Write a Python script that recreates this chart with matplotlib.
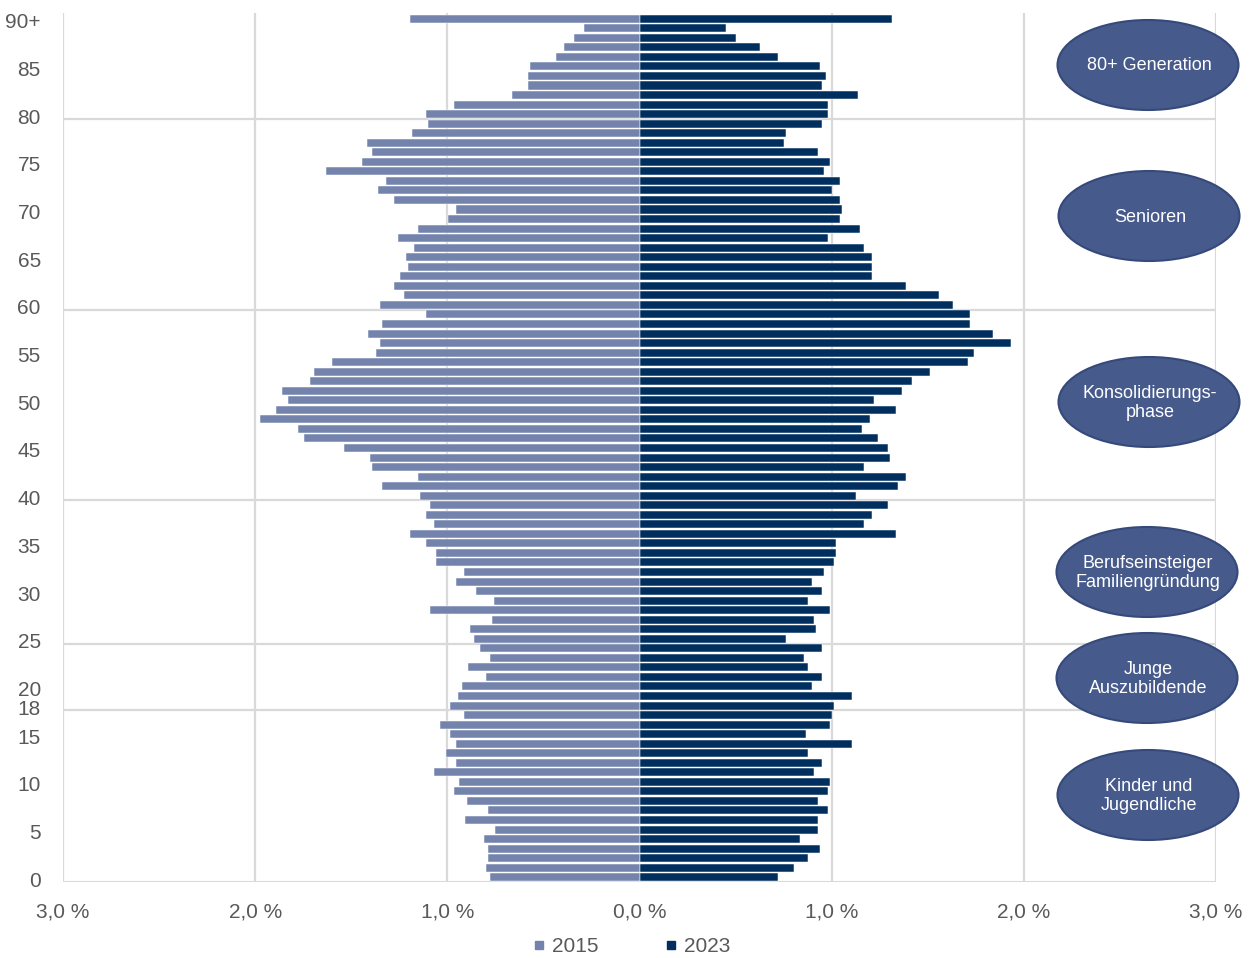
import matplotlib
matplotlib.use("Agg")
import matplotlib.pyplot as plt
from matplotlib.patches import Ellipse
from matplotlib.lines import Line2D
from matplotlib.transforms import ScaledTranslation

plt.rcParams['font.family'] = ['Liberation Sans', 'DejaVu Sans']

ages = list(range(0, 91))  # 90 = 90+

# share of population in %, index = age 0..90+
v2015 = [0.78, 0.80, 0.79, 0.79, 0.81, 0.75, 0.91, 0.79, 0.90, 0.965,
         0.94, 1.07, 0.955, 1.005, 0.955, 0.986, 1.038, 0.913, 0.986, 0.944,
         0.924, 0.80, 0.892, 0.778, 0.83, 0.861, 0.882, 0.767, 1.09, 0.757,
         0.851, 0.955, 0.913, 1.059, 1.059, 1.11, 1.194, 1.07, 1.11, 1.09,
         1.142, 1.34, 1.153, 1.392, 1.403, 1.538, 1.747, 1.778, 1.976, 1.892,
         1.83, 1.861, 1.715, 1.694, 1.60, 1.371, 1.35, 1.413, 1.34, 1.11,
         1.35, 1.226, 1.278, 1.247, 1.205, 1.215, 1.175, 1.257, 1.151, 0.998,
         0.957, 1.278, 1.361, 1.32, 1.632, 1.443, 1.39, 1.42, 1.183, 1.10,
         1.11, 0.966, 0.663, 0.58, 0.58, 0.569, 0.434, 0.394, 0.342, 0.288,
         1.195]

v2023 = [0.722, 0.806, 0.879, 0.941, 0.837, 0.93, 0.93, 0.983, 0.93, 0.983,
         0.993, 0.91, 0.951, 0.879, 1.108, 0.868, 0.993, 1.003, 1.014, 1.108,
         0.899, 0.951, 0.879, 0.858, 0.951, 0.764, 0.92, 0.91, 0.993, 0.879,
         0.951, 0.899, 0.962, 1.014, 1.024, 1.024, 1.337, 1.17, 1.212, 1.295,
         1.128, 1.347, 1.389, 1.17, 1.306, 1.295, 1.243, 1.16, 1.20, 1.337,
         1.222, 1.368, 1.42, 1.514, 1.712, 1.743, 1.931, 1.837, 1.722, 1.722,
         1.629, 1.556, 1.389, 1.212, 1.212, 1.212, 1.17, 0.983, 1.149, 1.045,
         1.056, 1.045, 1.003, 1.045, 0.962, 0.993, 0.93, 0.753, 0.764, 0.951,
         0.983, 0.983, 1.139, 0.951, 0.972, 0.94, 0.722, 0.628, 0.503, 0.451,
         1.316]

ytick_vals = [0, 5, 10, 15, 18, 20, 25, 30, 35, 40, 45, 50, 55, 60, 65, 70, 75, 80, 85, 90]
ytick_labels = ['0', '5', '10', '15', '18', '20', '25', '30', '35', '40', '45',
                '50', '55', '60', '65', '70', '75', '80', '85', '90+']
xtick_vals = [-3, -2, -1, 0, 1, 2, 3]
xtick_labels = ['3,0 %', '2,0 %', '1,0 %', '0,0 %', '1,0 %', '2,0 %', '3,0 %']
hlines_at = [79.5, 59.5, 39.5, 24.5, 17.5]

groups = ['80+ Generation', 'Senioren', 'Konsolidierungs-\nphase',
          'Berufseinsteiger\nFamiliengründung', 'Junge\nAuszubildende',
          'Kinder und\nJugendliche']

c2015 = '#7383AC'
c2023 = '#002F5F'
grid_c = '#D9D9D9'
txt_c = '#595959'

fig = plt.figure(figsize=(12.56, 9.58), dpi=100)
ax = fig.add_axes([63/1256, 1-882/958, (1216-63)/1256, (882-13)/958])

ax.barh(ages, [-v for v in v2015], height=0.84, color=c2015,
        edgecolor='white', linewidth=0.35, zorder=3, label='2015')
ax.barh(ages, v2023, height=0.84, color=c2023,
        edgecolor='white', linewidth=0.35, zorder=3, label='2023')

ax.set_xlim(-3, 3)
ax.set_ylim(-0.5, 90.6)
for s in ax.spines.values():
    s.set_visible(False)
for xv in xtick_vals:
    if xv != 0:
        ax.axvline(xv, color=grid_c, lw=1.6, zorder=1)
for hv in hlines_at:
    ax.axhline(hv, color=grid_c, lw=1.6, zorder=1)
ax.axhline(-0.5, color=grid_c, lw=2.2, zorder=1)

ax.set_xticks(xtick_vals)
ax.set_xticklabels(xtick_labels, fontsize=15, color=txt_c)
ax.set_yticks(ytick_vals)
ax.set_yticklabels(ytick_labels, fontsize=15, color=txt_c)
ax.tick_params(axis='both', length=0)
ax.tick_params(axis='y', pad=16)
ax.tick_params(axis='x', pad=15)
shift = ScaledTranslation(0, -2/100, fig.dpi_scale_trans)
for lbl in ax.get_yticklabels():
    lbl.set_transform(lbl.get_transform() + shift)

# group ellipses (figure pixel positions)
ell_pos = [(1148, 65), (1149, 216), (1149, 402), (1147, 572), (1147, 678), (1148, 795)]
for (px, py), name in zip(ell_pos, groups):
    fx, fy = px/1256, 1-py/958
    e = Ellipse((fx, fy), 181/1256, 90/958, transform=fig.transFigure,
                facecolor='#465A8B', edgecolor='#35497A', lw=1.5, zorder=5)
    fig.add_artist(e)
    fig.text(fx + 1/1256, fy - 1/958, name, ha='center', va='center', color='white',
             fontsize=13, linespacing=1.22, zorder=6)

handles = [Line2D([], [], marker='s', linestyle='none', color=c2015, markersize=6),
           Line2D([], [], marker='s', linestyle='none', color=c2023, markersize=6)]
fig.legend(handles, ['2015', '2023'], loc='center', bbox_to_anchor=(0.503, 1-947/958),
           ncol=2, frameon=False, fontsize=15, handlelength=0.6, handletextpad=0.3,
           columnspacing=3.2, labelcolor=txt_c)

fig.savefig('out.png', dpi=100)
